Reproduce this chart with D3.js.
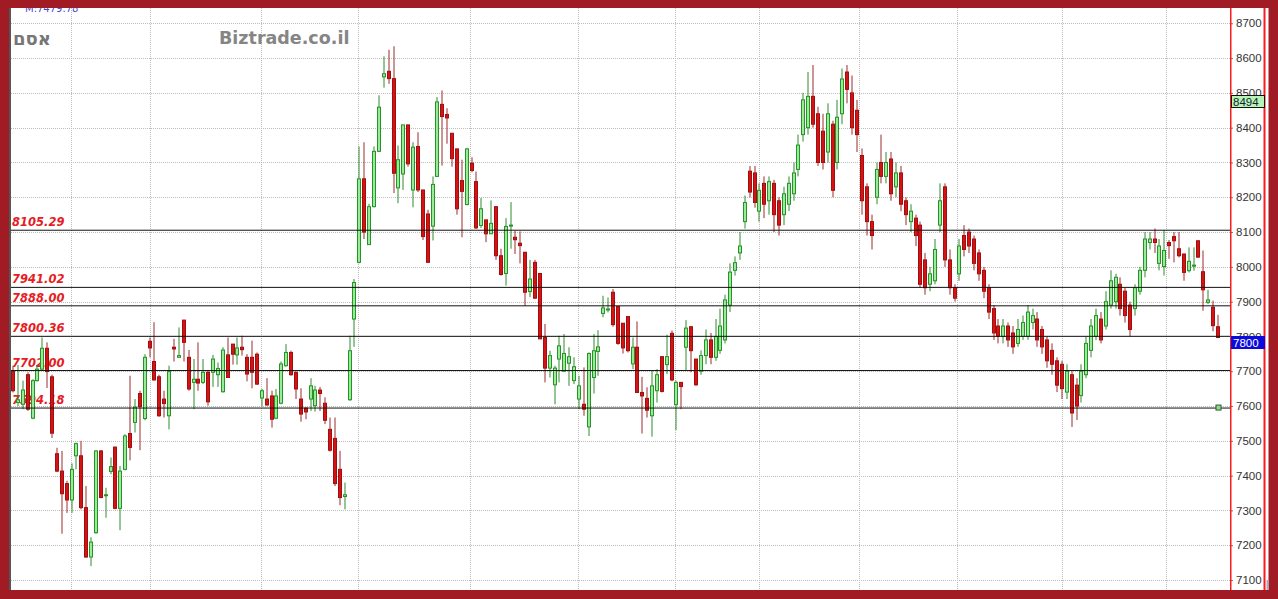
<!DOCTYPE html>
<html><head><meta charset="utf-8">
<script src="https://cdn.jsdelivr.net/npm/d3@7/dist/d3.min.js"></script>
<style>html,body{margin:0;padding:0;background:#fff;overflow:hidden}</style>
</head><body>
<svg id="c" width="1278" height="599"></svg>
<script>
// ---- data ----
const opens = [7699,7610,7605,7690,7565,7673,7706,7766,7684,7463,7413,7377,7330,7457,7457,7308,7166,7236,7471,7343,
7412,7482,7306,7418,7521,7553,7636,7564,7786,7728,7684,7620,7572,7769,7740,7847,7740,7668,7677,7668,
7697,7697,7690,7641,7747,7778,7747,7769,7740,7740,7749,7623,7620,7629,7565,7608,7716,7754,7697,7620,
7594,7620,7601,7646,7608,7533,7507,7418,7340,7618,7850,8013,8253,8064,8173,8332,8546,8562,8541,8227,
8267,8408,8221,8346,8221,8152,8117,8260,8467,8438,8384,8339,8248,8179,8298,8245,8119,8135,8095,8173,
8032,7981,8118,8085,8068,8042,7929,8013,7981,7797,7709,7661,7735,7700,7723,7673,7620,7605,7540,7682,
7757,7866,7876,7927,7886,7838,7857,7721,7769,7639,7622,7572,7644,7742,7719,7809,7604,7668,7769,7828,
7735,7700,7745,7790,7740,7760,7790,7890,7990,8040,8130,8275,8270,8160,8240,8190,8240,8190,8150,8180,
8210,8280,8380,8400,8490,8440,8390,8330,8410,8300,8440,8560,8500,8450,8320,8230,8130,8200,8300,8260,
8310,8230,8270,8190,8130,8140,8120,8020,7950,7960,8120,8230,8020,7940,7980,8090,8100,8080,8040,7990,
7940,7880,7830,7800,7830,7810,7780,7800,7800,7840,7850,7820,7790,7760,7730,7720,7640,7690,7660,7630,
7690,7760,7800,7850,7830,7890,7900,7950,7930,7890,7880,7930,7990,8070,8080,8010,8001,8070,8087,8052,
8037,7989,8003,8075,7986,7898,7884,7828];
const highs = [7716,7718,7673,7697,7677,7718,7797,7783,7690,7480,7471,7385,7435,7495,7500,7370,7223,7473,7473,7365,
7452,7483,7428,7519,7687,7620,7644,7749,7797,7841,7690,7644,7716,7793,7826,7847,7761,7735,7783,7735,
7701,7747,7725,7769,7797,7778,7797,7802,7749,7788,7754,7649,7680,7644,7649,7728,7778,7759,7699,7651,
7596,7680,7658,7655,7625,7567,7567,7471,7380,7802,7965,8346,8358,8181,8346,8493,8605,8624,8634,8349,
8408,8408,8358,8387,8221,8164,8260,8488,8507,8456,8384,8339,8308,8342,8315,8274,8198,8135,8191,8173,
8052,8140,8186,8104,8102,8042,8020,8020,7981,7836,7759,7716,7802,7807,7769,7740,7687,7711,7754,7807,
7818,7917,7912,7936,7886,7838,7857,7797,7843,7684,7654,7701,7706,7742,7805,7817,7673,7668,7847,7828,
7735,7760,7820,7810,7850,7880,7920,8010,8030,8100,8205,8290,8290,8240,8260,8260,8250,8200,8230,8260,
8300,8380,8500,8560,8580,8460,8440,8470,8420,8480,8570,8580,8550,8480,8340,8240,8150,8300,8380,8330,
8330,8300,8290,8200,8180,8150,8130,8040,8000,8080,8240,8240,8050,7950,8080,8120,8110,8090,8050,8000,
7950,7890,7850,7850,7840,7830,7850,7860,7890,7880,7870,7830,7800,7780,7740,7730,7720,7700,7680,7720,
7800,7850,7880,7870,7930,7990,7980,7970,7940,7900,7950,8000,8100,8100,8110,8080,8106,8077,8100,8100,
8037,8056,8056,8075,8047,7934,7903,7862];
const lows = [7639,7600,7591,7586,7562,7670,7701,7652,7508,7410,7233,7293,7293,7418,7303,7164,7140,7233,7335,7279,
7404,7303,7243,7415,7444,7524,7473,7559,7740,7673,7569,7567,7533,7728,7740,7728,7644,7591,7644,7663,
7601,7655,7655,7639,7682,7719,7719,7745,7671,7651,7661,7598,7601,7538,7562,7605,7713,7687,7620,7555,
7562,7586,7584,7586,7548,7469,7370,7315,7303,7615,7770,8010,8080,8064,8171,8330,8515,8526,8212,8183,
8221,8288,8171,8215,8077,8013,8076,8258,8291,8354,8288,8150,8085,8177,8272,8109,8112,8071,8095,8020,
7975,7946,8052,8037,8010,7888,7913,7908,7793,7668,7682,7605,7668,7700,7658,7663,7591,7572,7514,7636,
7687,7855,7869,7828,7776,7751,7754,7706,7639,7521,7567,7512,7610,7639,7692,7671,7531,7591,7703,7697,
7658,7690,7720,7720,7730,7750,7780,7870,7975,8020,8110,8200,8170,8130,8140,8150,8100,8090,8120,8160,
8190,8260,8360,8380,8400,8290,8280,8300,8200,8280,8410,8470,8380,8330,8150,8090,8050,8180,8240,8240,
8190,8200,8160,8120,8100,8060,7940,7920,7930,7950,8100,8000,7920,7900,7960,8030,8040,7990,7960,7910,
7850,7790,7780,7780,7770,7750,7770,7790,7790,7820,7770,7750,7710,7690,7640,7620,7620,7540,7560,7610,
7680,7740,7790,7780,7820,7880,7880,7860,7840,7800,7860,7920,7970,8050,8040,7990,7975,8023,8013,8027,
7960,7984,7989,8026,7874,7893,7815,7795];
const closes = [7644,7618,7646,7591,7673,7706,7766,7699,7522,7413,7348,7330,7418,7492,7308,7166,7209,7471,7337,7345,
7426,7306,7413,7514,7481,7597,7598,7740,7767,7675,7572,7607,7699,7764,7745,7783,7649,7677,7666,7697,
7612,7735,7708,7761,7682,7749,7767,7762,7692,7697,7663,7644,7603,7562,7629,7721,7754,7690,7649,7577,
7583,7658,7646,7636,7559,7473,7377,7337,7345,7759,7955,8253,8100,8173,8332,8459,8555,8541,8269,8308,
8408,8296,8344,8221,8087,8013,8237,8474,8432,8428,8311,8167,8217,8339,8277,8112,8167,8095,8125,8032,
7978,8116,8120,8078,8061,7927,7965,7910,7793,7709,7745,7709,7773,7751,7742,7713,7658,7591,7751,7759,
7770,7882,7879,7834,7780,7767,7759,7769,7639,7629,7588,7658,7690,7642,7742,7675,7668,7656,7824,7759,
7661,7745,7790,7740,7800,7830,7905,7985,8012,8060,8185,8215,8185,8220,8180,8245,8150,8120,8210,8240,
8270,8350,8480,8490,8410,8300,8300,8440,8220,8430,8540,8510,8400,8380,8190,8130,8090,8280,8260,8300,
8210,8270,8180,8150,8160,8090,7950,7940,7980,8050,8190,8020,7940,7910,8060,8050,8060,8010,7980,7930,
7870,7810,7800,7830,7790,7770,7820,7840,7870,7860,7790,7770,7730,7720,7660,7650,7700,7580,7600,7700,
7780,7830,7860,7790,7900,7960,7970,7880,7860,7820,7940,7990,8080,8080,8070,8060,8047,8061,8075,8032,
7984,8016,8005,8028,7934,7905,7831,7797];
const levels = [8105.29, 7941.02, 7888.00, 7800.36, 7702.00, 7594.18];
const levelLabels = ["8105.29", "7941.02", "7888.00", "7800.36", "7702.00", "7594.18"];
const yTicks = [7100,7200,7300,7400,7500,7600,7700,7800,7900,8000,8100,8200,8300,8400,8500,8600,8700];
const monthBreaks = [11.9, 28.1, 50.9, 70.8, 93.6, 115.8, 135.7, 153, 173.5, 193.4, 215, 236.3];
const tagHigh = 8494, tagLast = 7800, markerLevel = 7594.18;
const title = "אסם", site = "Biztrade.co.il", topNote = "M:7479.78";

// ---- drawing ----
const svg = d3.select('#c');
const N = opens.length;
const W = 1278, H = 599;
const plotL = 11, plotR = 1230, plotT = 8, plotB = 590;
const x = d3.scaleLinear().domain([0, N - 1]).range([13, 1218]);
const y = d3.scaleLinear().domain([7100, 8700]).range([580, 23.3]);
const FRAME = '#a11b24';

svg.append('rect').attr('width', W).attr('height', H).attr('fill', '#fff');

// top note (mostly hidden by frame)
svg.append('text').attr('x', 25).attr('y', 12).attr('font-family', 'DejaVu Sans')
  .attr('font-size', 10).attr('fill', '#4a4ad0').text(topNote);

// grid
const grid = svg.append('g');
grid.selectAll('line.h').data(yTicks).enter().append('line')
  .attr('x1', plotL).attr('x2', plotR)
  .attr('y1', d => Math.round(y(d)) + 0.5).attr('y2', d => Math.round(y(d)) + 0.5)
  .attr('stroke', '#bdbdbd').attr('stroke-dasharray', '1,1');
grid.selectAll('line.v').data(monthBreaks).enter().append('line')
  .attr('x1', d => Math.round(x(d)) + 0.5).attr('x2', d => Math.round(x(d)) + 0.5)
  .attr('y1', plotT).attr('y2', plotB)
  .attr('stroke', '#bdbdbd').attr('stroke-dasharray', '1,1');

// watermark texts
svg.append('text').attr('x', 13).attr('y', 45).attr('font-family', 'DejaVu Sans')
  .attr('font-weight', 'bold').attr('font-size', 18).attr('fill', '#777')
  .attr('direction', 'rtl').attr('text-anchor', 'end').text(title);
svg.append('text').attr('x', 219).attr('y', 44).attr('font-family', 'DejaVu Sans')
  .attr('font-weight', 'bold').attr('font-size', 17.5).attr('fill', '#858585').text(site);

// level labels (drawn under candles)
const lv = svg.append('g');
lv.selectAll('text').data(levels).enter().append('text')
  .attr('x', 12).attr('y', d => y(d) - 4)
  .attr('font-family', 'DejaVu Sans').attr('font-weight', 'bold').attr('font-style', 'italic')
  .attr('font-size', 11.5).attr('fill', '#e51c24')
  .text((d, i) => levelLabels[i]);

// candles
const idx = d3.range(N);
const cg = svg.append('g');
const up = i => closes[i] >= opens[i];
cg.selectAll('line').data(idx).enter().append('line')
  .attr('x1', i => Math.round(x(i) - 2) + 2).attr('x2', i => Math.round(x(i) - 2) + 2)
  .attr('y1', i => y(highs[i])).attr('y2', i => y(lows[i]))
  .attr('stroke', i => up(i) ? '#2c8a2c' : '#9a2a2a').attr('stroke-width', 1);
cg.selectAll('rect').data(idx).enter().append('rect')
  .attr('x', i => Math.round(x(i) - 2) + 0.5)
  .attr('width', 3)
  .attr('y', i => Math.min(y(opens[i]), y(closes[i])))
  .attr('height', i => Math.max(1, Math.abs(y(opens[i]) - y(closes[i]))))
  .attr('fill', i => up(i) ? '#98ec98' : '#d41414')
  .attr('stroke', i => up(i) ? '#279227' : '#a30d0d').attr('stroke-width', 1);

// level lines
const ll = svg.append('g');
ll.selectAll('line').data(levels).enter().append('line')
  .attr('x1', plotL).attr('x2', plotR)
  .attr('y1', d => y(d)).attr('y2', d => y(d))
  .attr('stroke', '#111').attr('stroke-width', 1);

// marker square at right end of lowest level
svg.append('rect').attr('x', x(N - 1) - 2).attr('y', y(markerLevel) - 3)
  .attr('width', 5).attr('height', 5).attr('fill', '#8fdc8f').attr('stroke', '#2d5a2d');

// right axis
const axis = d3.axisRight(y).tickValues(yTicks).tickSize(3).tickPadding(3).tickFormat(d3.format('d'));
const ag = svg.append('g').attr('transform', 'translate(1230,0)').call(axis);
ag.select('.domain').remove();
ag.selectAll('text').attr('font-family', 'Liberation Sans, Arial').attr('font-size', 11.5).attr('fill', '#333');
ag.selectAll('line').attr('stroke', '#777');
svg.append('line').attr('x1', 1230.75).attr('x2', 1230.75).attr('y1', plotT).attr('y2', plotB)
  .attr('stroke', '#ff1a1a').attr('stroke-width', 1.5);
svg.append('line').attr('x1', 1264.5).attr('x2', 1264.5).attr('y1', plotT).attr('y2', plotB)
  .attr('stroke', '#ff1a1a').attr('stroke-width', 2);

// value tags (they sit over the axis labels, as in the reference)
function tag(v, fill, color, border) {
  const ty = Math.round(y(v));
  svg.append('rect').attr('x', 1231.5).attr('y', ty + 0.5).attr('width', 33).attr('height', 12)
    .attr('fill', fill).attr('stroke', border);
  svg.append('text').attr('x', 1233).attr('y', ty + 10.5).attr('font-family', 'Liberation Sans, Arial')
    .attr('font-size', 11.5).attr('fill', color).text(v);
}
tag(tagHigh, '#b4f4b4', '#1a1a3a', '#111');
tag(tagLast, '#0b0bdc', '#fff', '#0b0bdc');

// plot left border
svg.append('line').attr('x1', 10).attr('x2', 10).attr('y1', 0).attr('y2', H).attr('stroke', '#555').attr('stroke-width', 2);

// frame
svg.append('rect').attr('x', 0).attr('y', 0).attr('width', W).attr('height', plotT).attr('fill', FRAME);
svg.append('rect').attr('x', 0).attr('y', plotB).attr('width', W).attr('height', H - plotB).attr('fill', FRAME);
svg.append('rect').attr('x', 0).attr('y', 0).attr('width', 9).attr('height', H).attr('fill', FRAME);
svg.append('rect').attr('x', 1268.5).attr('y', 0).attr('width', W - 1268.5).attr('height', H).attr('fill', FRAME);
svg.append('rect').attr('x', 1266.5).attr('y', 580).attr('width', 2).attr('height', 10).attr('fill', '#aab');
</script>
</body></html>
